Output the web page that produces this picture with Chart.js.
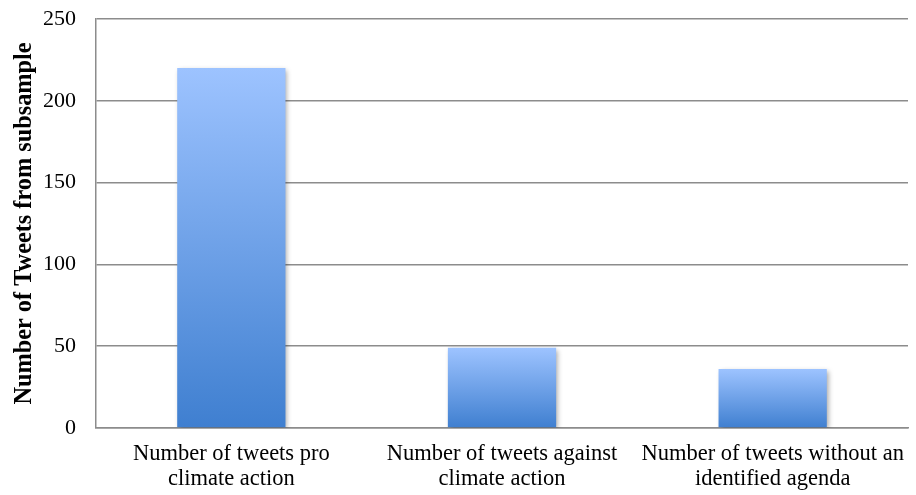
<!DOCTYPE html>
<html>
<head>
<meta charset="utf-8">
<script src="https://cdn.jsdelivr.net/npm/chart.js@4/dist/chart.umd.min.js"></script>
<style>
  html, body { margin: 0; padding: 0; background: #fff; }
  #wrap { width: 916px; height: 495px; }
</style>
</head>
<body>
<div id="wrap"><canvas id="tweets-chart"></canvas></div>
<script>
// Tweet counts per category
const categories = [
    ['Number of tweets pro', 'climate action'],
    ['Number of tweets against', 'climate action'],
    ['Number of tweets without an', 'identified agenda']
];
const tweetCounts = [220, 49, 36];
const yTicks = [0, 50, 100, 150, 200, 250];

// each bar gets its own gradient, light at the top, darker at the base
function barGradient(context) {
    const chart = context.chart;
    const area = chart.chartArea;
    if (!area || context.raw === undefined) return '#6a9be6';
    const top = chart.scales.y.getPixelForValue(context.raw);
    const g = chart.ctx.createLinearGradient(0, top, 0, area.bottom);
    g.addColorStop(0, '#9dc3ff');
    g.addColorStop(1, '#3f7fd0');
    return g;
}

// soft drop shadow behind the bars
const barShadow = {
    id: 'barShadow',
    beforeDatasetsDraw(chart) {
        const ctx = chart.ctx;
        ctx.save();
        ctx.shadowColor = 'rgba(0,0,0,0.35)';
        ctx.shadowBlur = 5;
        ctx.shadowOffsetX = 2;
        ctx.shadowOffsetY = 2;
    },
    afterDatasetsDraw(chart) {
        chart.ctx.restore();
    }
};

new Chart(document.getElementById('tweets-chart'), {
    type: 'bar',
    data: {
        labels: categories,
        datasets: [{
            data: tweetCounts,
            backgroundColor: barGradient,
            borderWidth: 0,
            categoryPercentage: 1,
            barPercentage: 0.4
        }]
    },
    options: {
        responsive: true,
        maintainAspectRatio: false,
        animation: false,
        layout: { padding: { top: 0, right: 8, bottom: 5, left: 10 } },
        plugins: {
            legend: { display: false },
            tooltip: { enabled: false }
        },
        scales: {
            x: {
                grid: { display: false, drawTicks: false },
                border: { color: '#8c8c8c', width: 1.5 },
                ticks: {
                    color: '#000',
                    padding: 14,
                    maxRotation: 0,
                    autoSkip: false,
                    font: { family: 'Liberation Serif', size: 22.5, lineHeight: 1.1 }
                },
                afterFit(scale) {
                    // fixed label band, no extra side padding from the long labels
                    scale.height = 62;
                    scale.paddingLeft = 0;
                    scale.paddingRight = 0;
                }
            },
            y: {
                min: 0,
                max: 250,
                afterBuildTicks(scale) {
                    scale.ticks = yTicks.map(v => ({ value: v }));
                },
                afterFit(scale) {
                    scale.width = 86;
                    scale.paddingTop = 19;
                    scale.paddingBottom = 0;
                },
                grid: { color: '#8c8c8c', lineWidth: 1.5, drawTicks: false },
                border: { color: '#8c8c8c', width: 1.5 },
                ticks: {
                    color: '#000',
                    padding: 20,
                    font: { family: 'Liberation Serif', size: 22 }
                },
                title: {
                    display: true,
                    text: 'Number of Tweets from subsample',
                    color: '#000',
                    padding: { top: 0, bottom: 0 },
                    font: { family: 'Liberation Serif', size: 24.3, weight: 'bold' }
                }
            }
        }
    },
    plugins: [barShadow]
});
</script>
</body>
</html>
